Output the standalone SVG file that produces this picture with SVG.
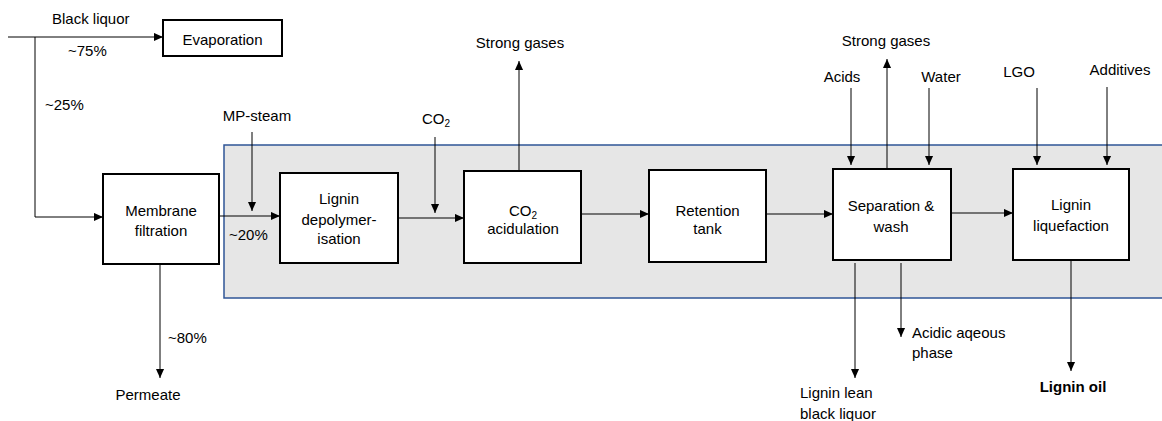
<svg xmlns="http://www.w3.org/2000/svg" width="1162" height="421" viewBox="0 0 1162 421">
<defs>
<marker id="ah" viewBox="0 0 10 10" refX="10" refY="5" markerWidth="9" markerHeight="9" markerUnits="userSpaceOnUse" orient="auto">
<path d="M0,0.5 L10,5 L0,9.5 Z" fill="#000"/>
</marker>
<style>
text{font-family:"Liberation Sans",Arial,sans-serif;font-size:15px;fill:#000}
.c{text-anchor:middle}
.b{font-weight:bold}
.box{fill:#fff;stroke:#000;stroke-width:2}
.ln{fill:none;stroke:#000;stroke-width:1}
.ar{fill:none;stroke:#000;stroke-width:1;marker-end:url(#ah)}
</style>
</defs>
<rect width="1162" height="421" fill="#fff"/>
<rect id="area" x="224" y="145" width="960" height="153" fill="#E6E6E6" stroke="#2F5597" stroke-width="1.5"/>
<g id="connectors">
<line class="ln" x1="8" y1="37" x2="35" y2="37"/>
<line class="ar" x1="35" y1="37" x2="163" y2="37"/>
<polyline class="ar" points="35,37 35,217 103,217"/>
<line class="ar" x1="219" y1="216" x2="280" y2="216"/>
<line class="ar" x1="252" y1="132" x2="252" y2="211"/>
<line class="ar" x1="160" y1="264" x2="160" y2="378"/>
<line class="ar" x1="398" y1="218" x2="464" y2="218"/>
<line class="ar" x1="435" y1="137" x2="435" y2="213"/>
<line class="ar" x1="519" y1="171" x2="519" y2="61"/>
<line class="ar" x1="581" y1="214" x2="649" y2="214"/>
<line class="ar" x1="766" y1="214" x2="833" y2="214"/>
<line class="ar" x1="851" y1="88" x2="851" y2="165"/>
<line class="ar" x1="887" y1="169" x2="887" y2="59"/>
<line class="ar" x1="929" y1="88" x2="929" y2="165"/>
<line class="ar" x1="951" y1="213" x2="1013" y2="213"/>
<line class="ar" x1="1037" y1="88" x2="1037" y2="165"/>
<line class="ar" x1="1107" y1="87" x2="1107" y2="165"/>
<line class="ar" x1="855" y1="263" x2="855" y2="378"/>
<line class="ar" x1="901" y1="263" x2="901" y2="337"/>
<line class="ar" x1="1071" y1="260" x2="1071" y2="371"/>
</g>
<g id="evaporation"><rect class="box" x="163" y="20" width="119" height="36"/><text class="c" x="222.5" y="45">Evaporation</text></g>
<g id="membrane"><rect class="box" x="103" y="174" width="116" height="90"/><text class="c" x="161" y="216">Membrane</text><text class="c" x="161" y="236">filtration</text></g>
<g id="depol"><rect class="box" x="280" y="173" width="118" height="90"/><text class="c" x="339" y="204">Lignin</text><text class="c" x="339" y="225">depolymer-</text><text class="c" x="339" y="244">isation</text></g>
<g id="acidulation"><rect class="box" x="464" y="171" width="117" height="92"/><text class="c" x="523" y="216">CO<tspan font-size="10" dy="3">2</tspan></text><text class="c" x="523" y="234">acidulation</text></g>
<g id="retention"><rect class="box" x="649" y="170" width="117" height="92"/><text class="c" x="707.5" y="216">Retention</text><text class="c" x="707.5" y="234">tank</text></g>
<g id="separation"><rect class="box" x="833" y="169" width="118" height="91"/><text class="c" x="891" y="211">Separation &amp;</text><text class="c" x="891" y="232">wash</text></g>
<g id="liquefaction"><rect class="box" x="1013" y="169" width="116" height="91"/><text class="c" x="1071" y="210">Lignin</text><text class="c" x="1071" y="231">liquefaction</text></g>
<g id="labels">
<text x="52" y="24">Black liquor</text>
<text x="68" y="56">~75%</text>
<text x="45" y="110">~25%</text>
<text class="c" x="257" y="121">MP-steam</text>
<text x="229" y="240">~20%</text>
<text x="168" y="343">~80%</text>
<text class="c" x="148" y="400">Permeate</text>
<text x="422" y="124">CO<tspan font-size="10" dy="3">2</tspan></text>
<text class="c" x="520" y="48">Strong gases</text>
<text class="c" x="886" y="46">Strong gases</text>
<text class="c" x="842" y="82">Acids</text>
<text class="c" x="941" y="82">Water</text>
<text class="c" x="1019" y="77">LGO</text>
<text class="c" x="1120" y="75">Additives</text>
<text x="912" y="338">Acidic aqeous</text>
<text x="912" y="358">phase</text>
<text x="800" y="398">Lignin lean</text>
<text x="800" y="419">black liquor</text>
<text class="c b" x="1073" y="392">Lignin oil</text>
</g>
</svg>
